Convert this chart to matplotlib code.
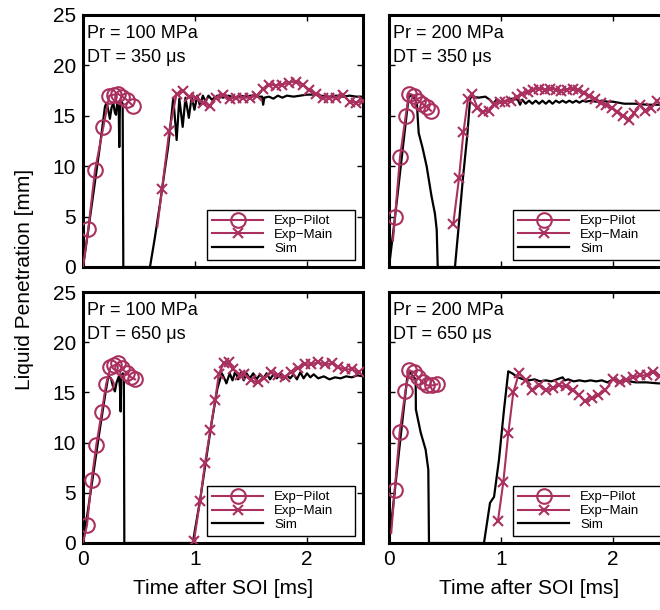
import numpy as np
import matplotlib
matplotlib.use("Agg")
import matplotlib.pyplot as plt

plt.rcParams["font.family"] = ["Liberation Sans", "DejaVu Sans"]

RED = "#A9305F"

# ---- panel labels ----
pressures = ["Pr = 100 MPa", "Pr = 200 MPa", "Pr = 100 MPa", "Pr = 200 MPa"]
dwells    = ["DT = 350 μs", "DT = 350 μs", "DT = 650 μs", "DT = 650 μs"]

# ---- Pr 100 / DT 350 ----
a_pil_t = [0.0, 0.048, 0.107, 0.182, 0.235, 0.275, 0.31, 0.35, 0.39, 0.445]
a_pil_y = [0.0, 3.8, 9.6, 13.9, 17.0, 17.1, 17.2, 16.9, 16.6, 16.0]
a_main_t = [0.664, 0.705, 0.77, 0.836, 0.895, 0.95, 1.01, 1.07, 1.13, 1.19, 1.25, 1.31,
            1.37, 1.43, 1.49, 1.55, 1.61, 1.66, 1.72, 1.78, 1.84, 1.90, 1.96, 2.02,
            2.08, 2.14, 2.20, 2.26, 2.32, 2.38, 2.44, 2.50]
a_main_y = [4.0, 7.7, 13.5, 17.2, 17.5, 16.9, 16.8, 16.3, 16.0, 16.8, 17.1, 16.7,
            16.8, 16.8, 16.8, 17.0, 17.7, 18.1, 18.0, 18.1, 18.3, 18.4, 18.1, 17.6,
            17.2, 16.8, 16.8, 16.8, 17.1, 16.4, 16.3, 16.5]
a_sim_t = [0.0, 0.05, 0.10, 0.15, 0.196, 0.21, 0.225, 0.24, 0.255, 0.27, 0.285, 0.295,
           0.305, 0.318, 0.324, 0.33, 0.345, 0.354, 0.36, 0.598, 0.64, 0.688, 0.73,
           0.76, 0.79, 0.806, 0.836, 0.86, 0.89, 0.915, 0.945, 0.97, 0.995, 1.02, 1.045,
           1.07, 1.095, 1.12, 1.15, 1.20, 1.25, 1.30, 1.35, 1.40, 1.45, 1.50, 1.56, 1.60,
           1.608, 1.62, 1.66, 1.70, 1.74, 1.78, 1.82, 1.88, 1.94, 2.00, 2.06, 2.12, 2.20,
           2.26, 2.32, 2.38, 2.44, 2.50]
a_sim_y = [0.0, 3.9, 7.9, 11.9, 15.9, 16.3, 15.6, 14.7, 15.8, 16.3, 15.3, 15.1,
           16.2, 16.4, 11.9, 16.2, 16.4, 16.2, 0.0, 0.0, 2.8, 6.3, 9.6,
           11.9, 15.0, 16.8, 12.6, 16.7, 13.9, 16.8, 14.8, 16.9, 15.6, 17.0, 16.0,
           17.0, 16.4, 17.0, 16.6, 17.0, 16.8, 17.0, 16.8, 17.0, 16.9, 17.0, 16.9, 16.9,
           16.1, 16.8, 16.9, 16.7, 17.0, 16.8, 17.0, 16.9, 17.0, 17.1, 17.1, 17.0, 16.9,
           17.0, 16.9, 17.0, 16.9, 16.9]

# ---- Pr 200 / DT 350 ----
b_pil_t = [0.035, 0.054, 0.098, 0.149, 0.179, 0.226, 0.262, 0.298, 0.336, 0.375]
b_pil_y = [2.6, 5.0, 10.9, 15.0, 17.2, 17.0, 16.5, 16.2, 15.9, 15.5]
b_main_t = [0.574, 0.574, 0.625, 0.665, 0.705, 0.74, 0.79, 0.84, 0.89, 0.94, 0.99, 1.04,
            1.09, 1.14, 1.19, 1.24, 1.29, 1.34, 1.39, 1.44, 1.49, 1.54, 1.59, 1.64,
            1.69, 1.74, 1.79, 1.84, 1.89, 1.94, 1.99, 2.04, 2.09, 2.14, 2.19, 2.24,
            2.29, 2.34, 2.39, 2.44, 2.49]
b_main_y = [4.3, 4.3, 8.8, 13.4, 16.7, 17.2, 15.8, 15.4, 15.5, 16.2, 16.4, 16.4,
            16.5, 16.9, 17.2, 17.4, 17.6, 17.7, 17.6, 17.7, 17.6, 17.5, 17.6, 17.7,
            17.6, 17.3, 17.0, 16.7, 16.3, 16.1, 15.8, 15.4, 15.0, 14.6, 15.3, 16.1,
            15.5, 15.8, 16.5, 16.0, 16.2]
b_sim_t = [0.0, 0.05, 0.10, 0.15, 0.175, 0.20, 0.23, 0.25, 0.256, 0.265, 0.30, 0.336,
           0.38, 0.41, 0.426, 0.435, 0.589, 0.62, 0.66, 0.70, 0.725, 0.75, 0.80, 0.86,
           0.90, 0.93, 0.96, 1.00, 1.05, 1.10, 1.15, 1.17, 1.19, 1.22, 1.25, 1.28, 1.31,
           1.34, 1.37, 1.40, 1.43, 1.46, 1.49, 1.52, 1.55, 1.58, 1.61, 1.64, 1.67, 1.70,
           1.73, 1.76, 1.80, 1.85, 1.90, 1.95, 2.00, 2.05, 2.10, 2.20, 2.30, 2.40, 2.50]
b_sim_y = [0.0, 4.6, 9.5, 14.4, 16.8, 17.1, 16.7, 16.1, 14.9, 13.3, 11.8, 10.0,
           7.0, 5.3, 3.7, 0.0, 0.0, 3.8, 8.8, 13.2, 16.8, 16.9, 16.8, 16.9,
           16.6, 16.2, 16.6, 16.4, 16.5, 16.7, 16.6, 16.1, 16.6, 16.2, 16.5, 16.2, 16.5,
           16.2, 16.5, 16.2, 16.5, 16.2, 16.5, 16.3, 16.5, 16.3, 16.5, 16.3, 16.5, 16.3,
           16.5, 16.4, 16.5, 16.4, 16.5, 16.4, 16.4, 16.3, 16.2, 16.2, 16.1, 16.1, 16.1]

# ---- Pr 100 / DT 650 ----
c_pil_t = [0.0, 0.036, 0.077, 0.119, 0.167, 0.206, 0.245, 0.28, 0.313, 0.348, 0.39, 0.43, 0.465]
c_pil_y = [0.0, 1.8, 6.3, 9.8, 13.0, 15.8, 17.5, 17.7, 17.9, 17.4, 16.9, 16.5, 16.3]
c_main_t = [0.991, 0.991, 1.045, 1.09, 1.137, 1.18, 1.212, 1.255, 1.30, 1.34, 1.40, 1.44,
            1.50, 1.56, 1.62, 1.68, 1.74, 1.80, 1.86, 1.92, 1.98, 2.04, 2.10, 2.16,
            2.22, 2.28, 2.34, 2.40, 2.46]
c_main_y = [0.2, 0.2, 4.2, 8.0, 11.3, 14.2, 16.8, 17.9, 18.0, 17.3, 16.7, 16.8,
            16.2, 16.0, 16.4, 17.0, 16.7, 16.5, 17.0, 17.4, 17.8, 17.8, 18.0, 17.8,
            17.9, 17.5, 17.3, 17.3, 17.0]
c_sim_t = [0.0, 0.05, 0.10, 0.15, 0.20, 0.226, 0.25, 0.27, 0.285, 0.30, 0.32, 0.33,
           0.336, 0.342, 0.355, 0.365, 0.369, 0.98, 1.05, 1.10, 1.15, 1.20, 1.24, 1.27,
           1.28, 1.31, 1.335, 1.36, 1.385, 1.41, 1.435, 1.46, 1.49, 1.52, 1.55, 1.58,
           1.61, 1.64, 1.67, 1.70, 1.73, 1.76, 1.79, 1.82, 1.85, 1.88, 1.91, 1.94, 1.97,
           2.00, 2.03, 2.06, 2.10, 2.15, 2.20, 2.25, 2.30, 2.35, 2.40, 2.45, 2.50]
c_sim_y = [0.0, 3.7, 7.5, 11.3, 14.9, 16.6, 16.4, 15.5, 15.1, 16.0, 16.6, 15.5,
           13.1, 16.5, 16.9, 16.4, 0.0, 0.0, 4.6, 8.4, 12.1, 15.4, 16.9, 16.2,
           15.9, 16.9, 16.2, 17.1, 16.3, 17.0, 16.2, 16.9, 16.4, 16.9, 16.3, 16.8,
           16.4, 16.9, 16.3, 16.8, 16.4, 16.8, 16.3, 16.7, 16.4, 16.8, 16.3, 17.0, 16.4,
           16.9, 16.5, 16.8, 16.4, 16.6, 16.3, 16.5, 16.4, 16.6, 16.5, 16.7, 16.6]

# ---- Pr 200 / DT 650 ----
d_pil_t = [0.02, 0.051, 0.096, 0.146, 0.182, 0.225, 0.258, 0.30, 0.342, 0.387, 0.43]
d_pil_y = [1.0, 5.3, 11.1, 15.1, 17.2, 17.0, 16.5, 16.0, 15.7, 15.7, 15.8]
d_main_t = [0.973, 0.973, 1.021, 1.066, 1.11, 1.16, 1.22, 1.28, 1.34, 1.40, 1.46, 1.52,
            1.58, 1.64, 1.70, 1.75, 1.81, 1.87, 1.93, 2.00, 2.06, 2.12, 2.18, 2.24,
            2.30, 2.36, 2.42, 2.48]
d_main_y = [2.2, 2.2, 6.1, 11.0, 15.0, 16.9, 16.2, 15.2, 15.7, 15.2, 15.4, 15.7,
            15.6, 15.2, 14.7, 14.1, 14.4, 14.7, 15.2, 16.3, 16.0, 16.2, 16.5, 16.7,
            16.7, 17.0, 16.6, 16.8]
d_sim_t = [0.0, 0.05, 0.10, 0.164, 0.19, 0.215, 0.238, 0.240, 0.283, 0.327, 0.351, 0.357,
           0.848, 0.902, 0.938, 0.982, 1.027, 1.065, 1.10, 1.15, 1.20, 1.25, 1.30, 1.35,
           1.40, 1.45, 1.50, 1.55, 1.57, 1.60, 1.65, 1.70, 1.75, 1.80, 1.85, 1.90, 1.95,
           2.00, 2.05, 2.10, 2.20, 2.30, 2.40, 2.50]
d_sim_y = [0.0, 5.0, 10.2, 16.6, 17.0, 16.6, 16.3, 13.3, 11.0, 9.3, 7.3, 0.0,
           0.0, 4.0, 4.6, 8.3, 13.3, 17.1, 16.9, 16.5, 16.3, 16.2, 16.3, 16.1,
           16.2, 16.1, 16.3, 16.5, 16.2, 16.3, 16.1, 16.2, 16.1, 16.2, 16.1, 16.2, 16.0,
           16.3, 16.1, 16.2, 16.0, 16.0, 15.9, 15.9]

panels = [
    (a_pil_t, a_pil_y, a_main_t, a_main_y, a_sim_t, a_sim_y),
    (b_pil_t, b_pil_y, b_main_t, b_main_y, b_sim_t, b_sim_y),
    (c_pil_t, c_pil_y, c_main_t, c_main_y, c_sim_t, c_sim_y),
    (d_pil_t, d_pil_y, d_main_t, d_main_y, d_sim_t, d_sim_y),
]

W, H = 660, 610
fig = plt.figure(figsize=(W / 100, H / 100), dpi=100)

# axes boxes in pixels: (left, top, width, height); right column runs past the edge
boxes = [(83, 15, 280, 252), (389, 15, 280, 252),
         (83, 292, 280, 251), (389, 292, 280, 251)]

for i, (box, data) in enumerate(zip(boxes, panels)):
    l, t, w, h = box
    ax = fig.add_axes([l / W, 1 - (t + h) / H, w / W, h / H])
    pt, py, mt, my, st, sy = data

    hs, = ax.plot(st, sy, color="black", lw=1.6, zorder=2)
    hp, = ax.plot(pt, py, color=RED, lw=1.5, marker="o", ms=10.5, mfc="none",
                  mew=1.5, markevery=slice(1, None), zorder=3)
    hm, = ax.plot(mt, my, color=RED, lw=1.5, marker="x", ms=7.5, mew=1.5,
                  markevery=slice(1, None), zorder=3)

    ax.set_xlim(0, 2.5)
    ax.set_ylim(0, 25)
    ax.set_xticks([0, 1, 2])
    ax.set_yticks([0, 5, 10, 15, 20, 25])
    ax.tick_params(direction="in", top=True, right=True, length=4, width=1,
                   labelsize=15, pad=5)
    for s in ax.spines.values():
        s.set_linewidth(2.2)
    if i < 2:
        ax.tick_params(labelbottom=False)
    else:
        ax.set_xlabel("Time after SOI [ms]", fontsize=15, labelpad=7)
    if i % 2 == 1:
        ax.tick_params(labelleft=False)

    ax.text(0.015, 0.96, pressures[i] + "\n" + dwells[i], transform=ax.transAxes,
            ha="left", va="top", fontsize=13, linespacing=1.5)

    leg = ax.legend([hp, hm, hs], ["Exp\u2212Pilot", "Exp\u2212Main", "Sim"],
                    loc="lower left", bbox_to_anchor=(0.442, 0.027, 0.53, 0.2),
                    mode="expand", borderaxespad=0, fontsize=9.5,
                    handlelength=3.9, handletextpad=0.8, labelspacing=0.12,
                    borderpad=0.4, fancybox=False, framealpha=1)
    leg.get_frame().set_edgecolor("black")
    leg.get_frame().set_linewidth(1.0)

fig.text(25 / W, 1 - 279 / H, "Liquid Penetration [mm]", rotation=90,
         ha="center", va="center", fontsize=15)

fig.savefig("out.png", dpi=100)
